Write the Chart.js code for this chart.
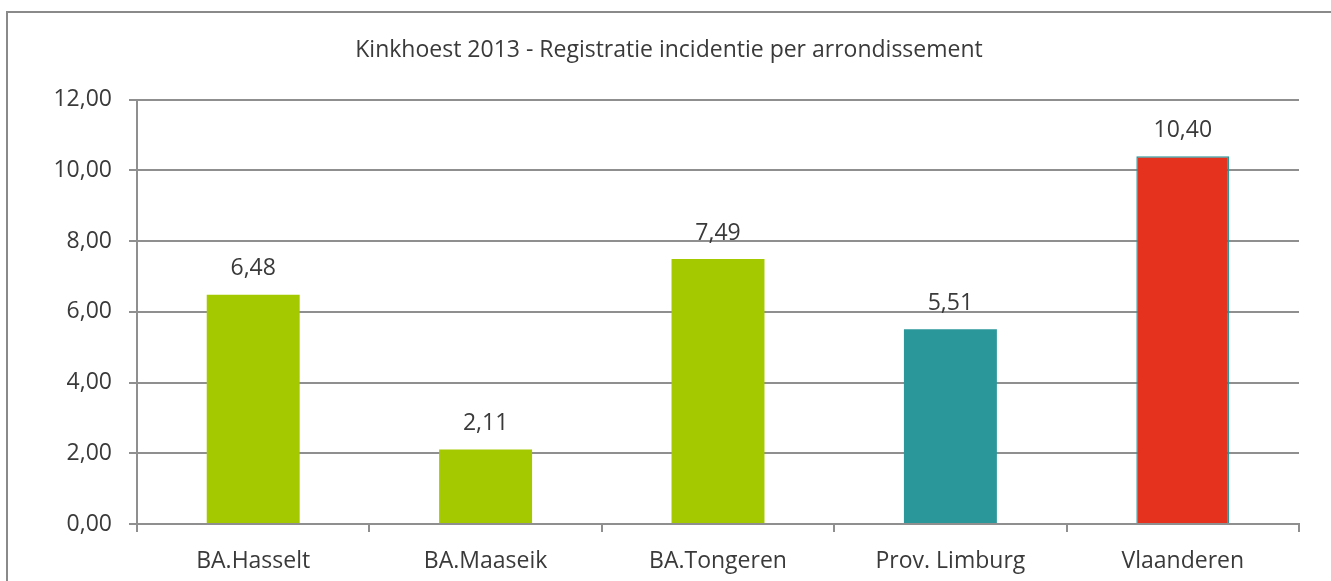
<!DOCTYPE html>
<html>
<head>
<meta charset="utf-8">
<script src="https://cdn.jsdelivr.net/npm/chart.js@4/dist/chart.umd.min.js"></script>
<style>
  html, body { margin: 0; padding: 0; background: #fff; overflow: hidden; }
  #wrap { position: relative; width: 1331px; height: 581px; }
</style>
</head>
<body>
<div id="wrap"><canvas id="chart" width="1331" height="581"></canvas></div>
<script>
/* ── Data ── */
const categories = ['BA.Hasselt', 'BA.Maaseik', 'BA.Tongeren', 'Prov. Limburg', 'Vlaanderen'];
const incidence  = [6.48, 2.11, 7.49, 5.51, 10.40];
const barColors  = ['#a5c900', '#a5c900', '#a5c900', '#2a979b', '#e5321f'];
const barBorders = ['#a5c900', '#a5c900', '#a5c900', '#2a979b', '#2a979b'];
const yTicks     = [0, 2, 4, 6, 8, 10, 12];

const FONT = 'Open Sans';
const TEXT = '#3a3a3a';
const GRID = '#8f8f8f';
const SIZE = 23;

const fmt = v => v.toFixed(2).replace('.', ',');

/* ── Frame + value labels ── */
const frame = {
  id: 'frame',
  afterDraw(chart) {
    const ctx = chart.ctx;
    ctx.save();
    ctx.strokeStyle = '#8a8a8a';
    ctx.lineWidth = 2;
    ctx.strokeRect(7, 12, 1340, 600);
    ctx.restore();
  }
};

const valueLabels = {
  id: 'valueLabels',
  afterDatasetsDraw(chart) {
    const ctx = chart.ctx;
    const meta = chart.getDatasetMeta(0);
    ctx.save();
    ctx.font = `${SIZE}px "${FONT}"`;
    ctx.fillStyle = TEXT;
    ctx.textAlign = 'center';
    ctx.textBaseline = 'middle';
    meta.data.forEach((bar, i) => {
      ctx.fillText(fmt(incidence[i]), bar.x, bar.y - 26);
    });
    ctx.restore();
  }
};

new Chart(document.getElementById('chart'), {
  type: 'bar',
  data: {
    labels: categories,
    datasets: [{
      data: incidence,
      backgroundColor: barColors,
      borderColor: barBorders,
      borderWidth: [0, 0, 0, 0, 1.5],
      barPercentage: 0.4,
      categoryPercentage: 1.0,
    }]
  },
  options: {
    responsive: false,
    animation: false,
    layout: { padding: { left: 39, right: 32, top: 0, bottom: 0 } },
    plugins: {
      legend: { display: false },
      tooltip: { enabled: false },
      title: {
        display: true,
        text: 'Kinkhoest 2013 - Registratie incidentie per arrondissement',
        color: TEXT,
        font: { family: FONT, size: SIZE, weight: 'normal', lineHeight: 1.2 },
        padding: { top: 37, bottom: 35 },
      }
    },
    scales: {
      x: {
        grid: { display: true, drawOnChartArea: false, drawTicks: true, tickLength: 8, color: GRID, lineWidth: 2 },
        border: { display: true, color: GRID, width: 2 },
        ticks: { color: TEXT, font: { family: FONT, size: SIZE }, padding: 16 },
        afterFit: s => { s.height = 57; },
      },
      y: {
        min: 0,
        max: 12,
        afterBuildTicks: s => { s.ticks = yTicks.map(v => ({ value: v })); },
        grid: { color: GRID, lineWidth: 2, drawTicks: true, tickLength: 8 },
        border: { display: true, color: GRID, width: 2 },
        ticks: { color: TEXT, font: { family: FONT, size: SIZE }, padding: 17, callback: v => fmt(v) },
        afterFit: s => { s.width = 98; },
      }
    }
  },
  plugins: [frame, valueLabels]
});
</script>
</body>
</html>
